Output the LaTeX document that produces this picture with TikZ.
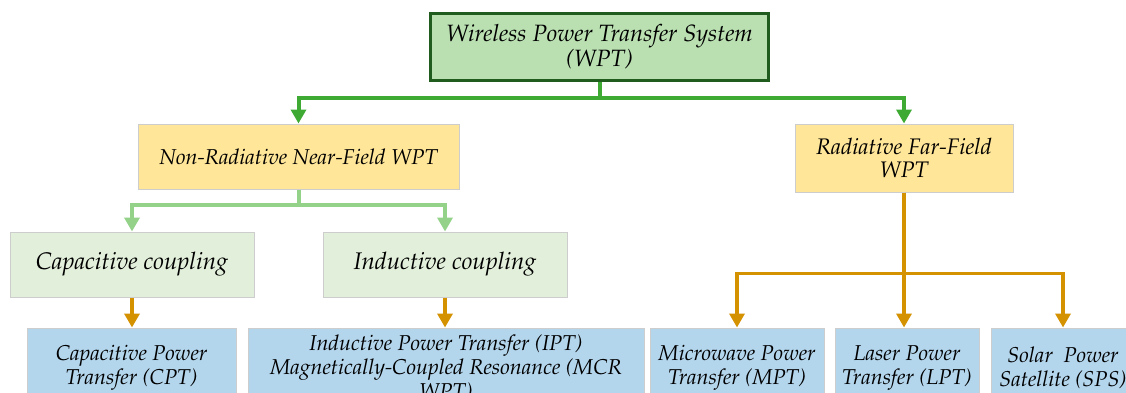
\documentclass[tikz,border=0pt]{standalone}
\usepackage[T1]{fontenc}
\usepackage{mathpazo}
\usetikzlibrary{arrows.meta,positioning}

\definecolor{topfill}{RGB}{186,224,178}
\definecolor{topline}{RGB}{32,92,30}
\definecolor{fieldfill}{RGB}{255,230,153}
\definecolor{couplefill}{RGB}{226,239,218}
\definecolor{leaffill}{RGB}{180,214,237}
\definecolor{boxline}{RGB}{205,205,205}
\definecolor{mainlink}{RGB}{62,170,52}
\definecolor{nearlink}{RGB}{148,210,138}
\definecolor{farlink}{RGB}{212,146,0}

\begin{document}
\begin{tikzpicture}[x=1pt,y=-1pt,
    >={Triangle[length=14pt,width=15pt]},
    box/.style={rectangle,draw=boxline,line width=1pt,inner sep=0pt,align=center},
    top node/.style={box,draw=topline,line width=3pt,fill=topfill,
      minimum width=338pt,minimum height=67pt,font=\itshape\fontsize{23.6}{25}\selectfont},
    field node/.style={box,fill=fieldfill,minimum height=65pt,
      font=\itshape\fontsize{21.5}{23}\selectfont},
    coupling node/.style={box,fill=couplefill,minimum width=244pt,minimum height=65pt,
      font=\itshape\fontsize{24}{26}\selectfont},
    leaf node/.style={box,fill=leaffill,minimum height=80pt,
      font=\itshape\fontsize{21.5}{24}\selectfont},
    main link/.style={->,draw=mainlink,line width=4pt},
    near link/.style={->,draw=nearlink,line width=4pt},
    far link/.style={->,draw=farlink,line width=3.5pt}]

    \useasboundingbox (0,0) rectangle (1126,392);
    \fill[white] (0,0) rectangle (1126,392);
    \clip (0,0) rectangle (1126,392);

    \node[top node] (WPT) at (599.5,47) {Wireless Power Transfer System\\(WPT)};
    \node[field node, minimum width=321pt] (Near) at (298.5,156.5) {Non-Radiative Near-Field WPT};
    \node[field node, minimum width=218pt, minimum height=68pt,
      font=\itshape\fontsize{22.5}{23}\selectfont] (Far) at (904,158) {Radiative Far-Field\\WPT};

    \node[coupling node] (Cap) at (132,264.5) {Capacitive coupling};
    \node[coupling node] (Ind) [right=68pt of Cap] {Inductive coupling};

    \node[leaf node, minimum width=209pt] (CPT) at (131.5,368) {Capacitive Power\\Transfer (CPT)};
    \node[leaf node, minimum width=396pt] (IPT) [right=11pt of CPT]
      {Inductive Power Transfer (IPT)\\Magnetically-Coupled Resonance (MCR\\WPT)};
    \node[leaf node, minimum width=174pt] (MPT) [right=5pt of IPT] {Microwave Power\\Transfer (MPT)};
    \node[leaf node, minimum width=144pt] (LPT) [right=10pt of MPT] {Laser Power\\Transfer (LPT)};
    \node[leaf node, minimum width=144pt] (SPS) [right=11pt of LPT] {Solar\ \ Power\\Satellite (SPS)};

    % top level split
    \draw[main link] (WPT.south) -- ++(0,15.5) -| (Near.north);
    \draw[main link] (WPT.south) -- ++(0,15.5) -| (Far.north);

    % near field branches
    \draw[near link] (Near.south) -- ++(0,15) -| (Cap.north);
    \draw[near link] (Near.south) -- ++(0,15) -| (Ind.north);

    % leaves
    \draw[far link] (Cap.south) -- (Cap.south |- CPT.north);
    \draw[far link] (Ind.south) -- (Ind.south |- IPT.north);
    \draw[far link] (Far.south) -- ++(0,81) -| (MPT.north);
    \draw[far link] (Far.south) -- (Far.south |- LPT.north);
    \draw[far link] (Far.south) -- ++(0,81) -| (SPS.north);

\end{tikzpicture}
\end{document}
